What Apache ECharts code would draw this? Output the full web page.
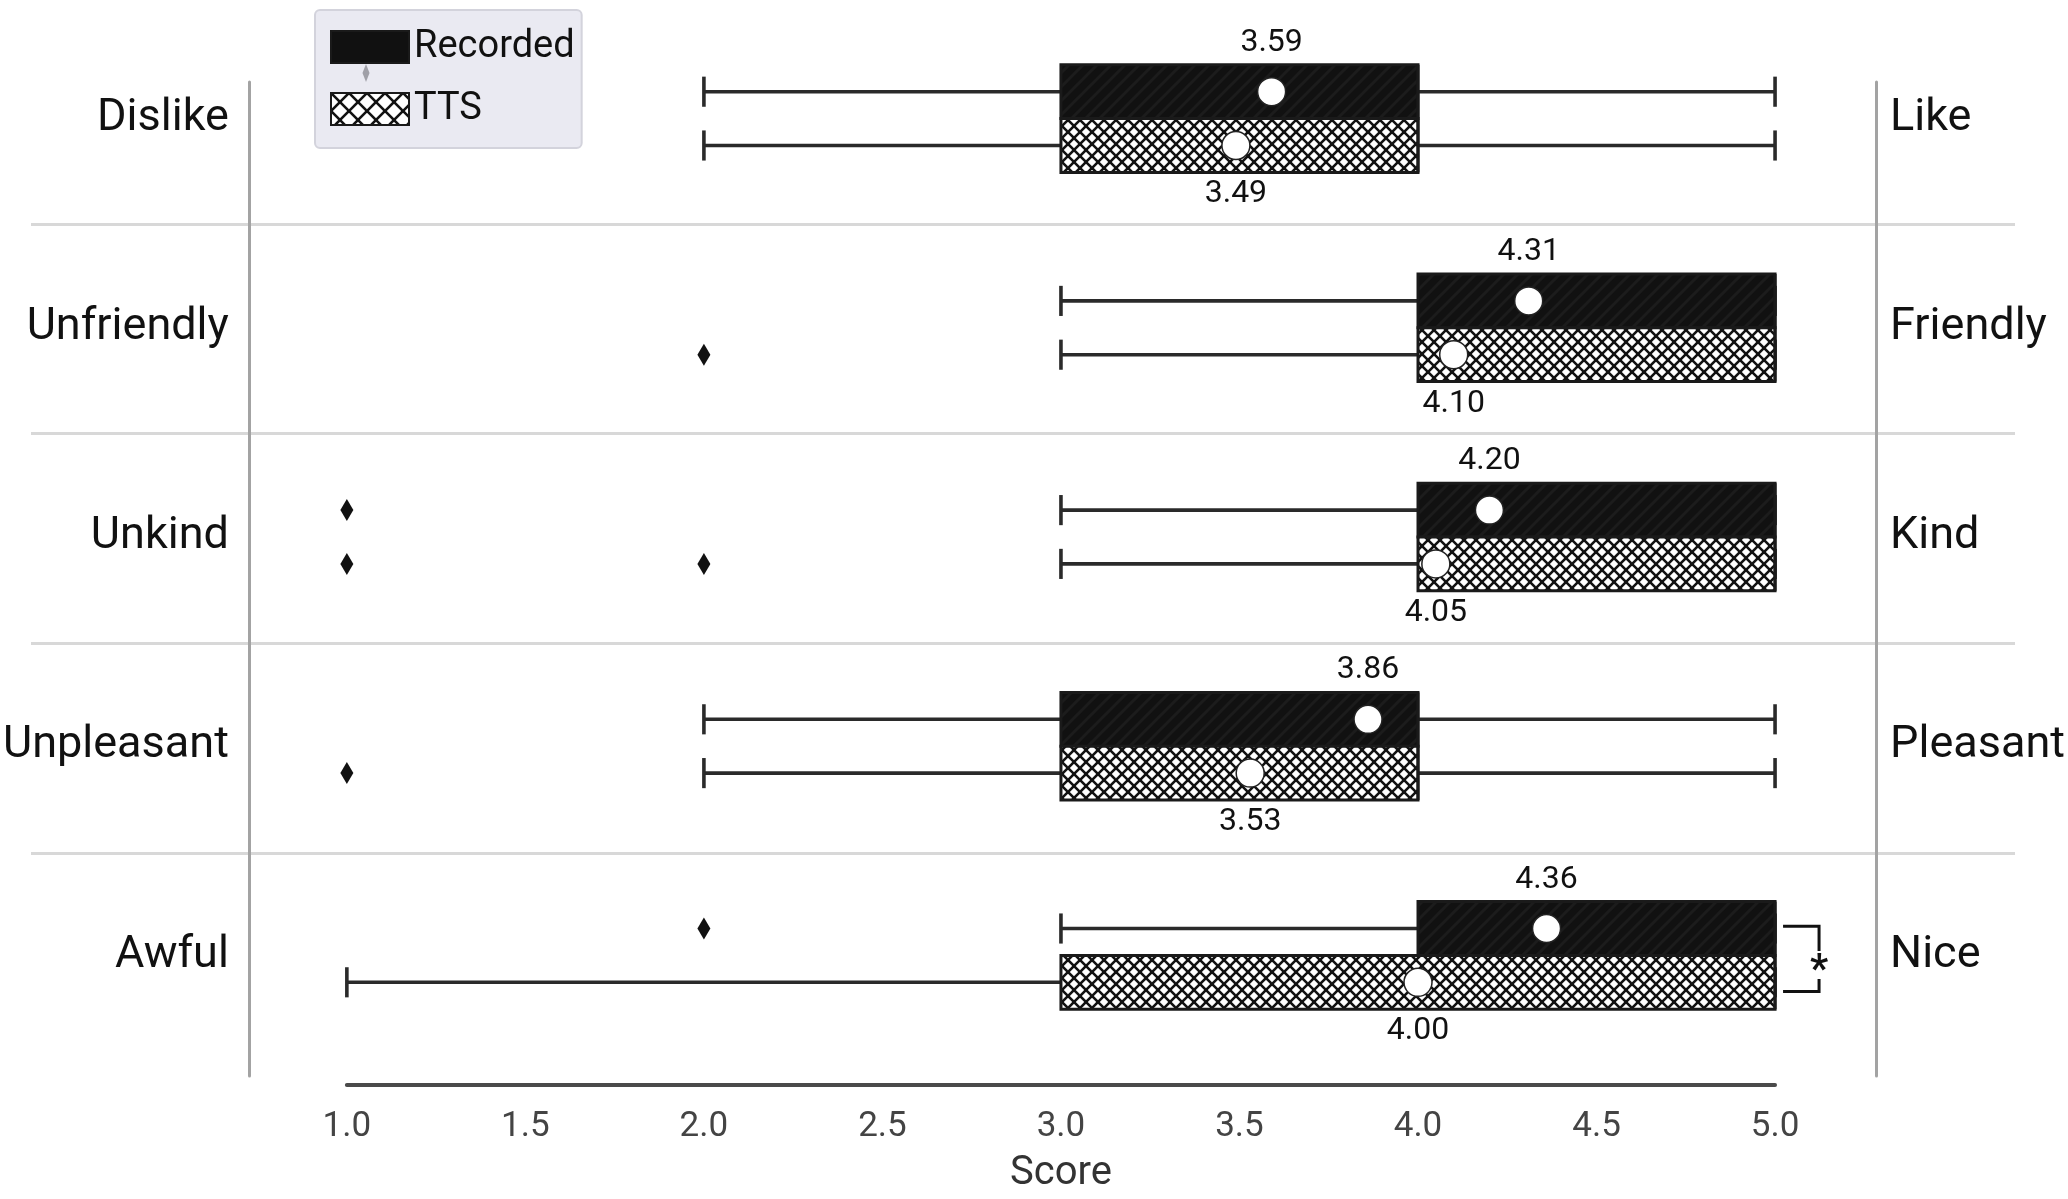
<!DOCTYPE html>
<html><head><meta charset="utf-8">
<script src="https://cdn.jsdelivr.net/npm/echarts@6/dist/echarts.min.js"></script>
<style>html,body{margin:0;padding:0;background:#fff}#c{width:2068px;height:1199px}</style>
</head><body><div id="c"></div>
<script>
// ---------- data ----------
const leftLabels  = ['Dislike', 'Unfriendly', 'Unkind', 'Unpleasant', 'Awful'];
const rightLabels = ['Like', 'Friendly', 'Kind', 'Pleasant', 'Nice'];
const groupNames  = ['Recorded', 'TTS'];
// [min, q1, median, q3, max]
const recordedBox = [[2, 3, 4, 4, 5], [3, 4, 5, 5, 5], [3, 4, 5, 5, 5], [2, 3, 4, 4, 5], [3, 4, 5, 5, 5]];
const ttsBox      = [[2, 3, 4, 4, 5], [3, 4, 5, 5, 5], [3, 4, 5, 5, 5], [2, 3, 4, 4, 5], [1, 3, 5, 5, 5]];
const recordedMean = [3.59, 4.31, 4.20, 3.86, 4.36];
const ttsMean      = [3.49, 4.10, 4.05, 3.53, 4.00];
// [rowIndex, value]
const recordedOutliers = [[2, 1], [4, 2]];
const ttsOutliers      = [[1, 2], [2, 1], [2, 2], [3, 1]];
// [rowIndex, marker]
const significance = [[4, '*']];
const xMin = 1, xMax = 5, xStep = 0.5;

// ---------- styles ----------
const FONT = 'Roboto, "Liberation Sans", sans-serif';
const BOX_FRAC = 54 / 210;   // box height as fraction of the row band
const LABEL_GAP = 22;

function hatch(bg, fg, size, lw, dirs) {
  const c = document.createElement('canvas');
  c.width = c.height = size;
  const g = c.getContext('2d');
  g.fillStyle = bg; g.fillRect(0, 0, size, size);
  g.strokeStyle = fg; g.lineWidth = lw; g.lineCap = 'square';
  for (let k = -1; k <= 1; k++) {
    if (dirs.includes('/')) { g.beginPath(); g.moveTo(k * size, size); g.lineTo(k * size + size, 0); g.stroke(); }
    if (dirs.includes('\\')) { g.beginPath(); g.moveTo(k * size, 0); g.lineTo(k * size + size, size); g.stroke(); }
  }
  return c;
}
const recFill = { image: hatch('#111111', '#1c1c1c', 14, 3, '/'), repeat: 'repeat' };
const ttsFill = { image: hatch('#ffffff', '#111111', 12, 2.6, '/\\'), repeat: 'repeat' };

function boxRenderer(side, fill) {
  return function (params, api) {
    const cat = api.value(0);
    const band = api.size([0, 1])[1];
    const h = band * BOX_FRAC;
    const yc = api.coord([api.value(1), cat])[1] + side * h / 2;
    const X = i => api.coord([api.value(i), cat])[0];
    const x0 = X(1), q1 = X(2), med = X(3), q3 = X(4), x1 = X(5), mean = X(6);
    const capH = h * 0.28;
    const ls = { stroke: '#2a2a2a', lineWidth: 3.6 };
    return {
      type: 'group',
      children: [
        { type: 'line', shape: { x1: x0, y1: yc, x2: q1, y2: yc }, style: ls },
        { type: 'line', shape: { x1: q3, y1: yc, x2: x1, y2: yc }, style: ls },
        { type: 'line', shape: { x1: x0, y1: yc - capH, x2: x0, y2: yc + capH }, style: ls },
        { type: 'line', shape: { x1: x1, y1: yc - capH, x2: x1, y2: yc + capH }, style: ls },
        { type: 'rect', shape: { x: q1, y: yc - h / 2, width: q3 - q1, height: h },
          style: { fill: fill, stroke: '#1a1a1a', lineWidth: 3 } },
        { type: 'line', shape: { x1: med, y1: yc - h / 2, x2: med, y2: yc + h / 2 },
          style: { stroke: '#1a1a1a', lineWidth: 3 } },
        { type: 'circle', shape: { cx: mean, cy: yc, r: 14 },
          style: { fill: '#ffffff', stroke: '#222', lineWidth: 1.5 } },
        { type: 'text', x: mean, y: side < 0 ? yc - h / 2 - LABEL_GAP : yc + h / 2 + LABEL_GAP,
          style: { text: api.value(6).toFixed(2), fontSize: 32, fontFamily: FONT, fill: '#111',
                   align: 'center', verticalAlign: 'middle' } }
      ]
    };
  };
}
function outlierRenderer(side) {
  return function (params, api) {
    const cat = api.value(0);
    const h = api.size([0, 1])[1] * BOX_FRAC;
    const p = api.coord([api.value(1), cat]);
    const yc = p[1] + side * h / 2;
    return { type: 'polygon',
      shape: { points: [[p[0], yc - 11], [p[0] + 6.5, yc], [p[0], yc + 11], [p[0] - 6.5, yc]] },
      style: { fill: '#111' } };
  };
}
function bracketRenderer(params, api) {
  const cat = api.value(0);
  const h = api.size([0, 1])[1] * BOX_FRAC;
  const p = api.coord([api.value(1), cat]);
  const yTop = p[1] - h * 0.54, yBot = p[1] + h * 0.67;
  const xa = p[0] + 8, xb = p[0] + 44;
  const ls = { stroke: '#111', lineWidth: 3 };
  const ym = (yTop + yBot) / 2;
  return { type: 'group', children: [
    { type: 'polyline', shape: { points: [[xa, yTop], [xb, yTop], [xb, ym - 8]] }, style: Object.assign({ fill: null }, ls) },
    { type: 'polyline', shape: { points: [[xb, ym + 20], [xb, yBot], [xa, yBot]] }, style: Object.assign({ fill: null }, ls) },
    { type: 'text', x: xb, y: ym + 13, style: { text: significance[params.dataIndex][1], fontSize: 40,
      fontFamily: FONT, fontWeight: 'bold', fill: '#111', align: 'center', verticalAlign: 'middle' } }
  ] };
}

const recData = recordedBox.map((b, i) => [i, ...b, recordedMean[i]]);
const ttsData = ttsBox.map((b, i) => [i, ...b, ttsMean[i]]);
const sigData = significance.map(s => [s[0], Math.max(recordedBox[s[0]][4], ttsBox[s[0]][4])]);

const chart = echarts.init(document.getElementById('c'), null, { renderer: 'canvas' });
chart.setOption({
  backgroundColor: '#ffffff',
  animation: false,
  grid: [
    { left: 346, right: 284, top: 14, bottom: 136 },
    { left: 31, right: 53, top: 14, bottom: 136 },
    { left: 249, right: 192, top: 82, bottom: 123 }
  ],
  xAxis: [
    { gridIndex: 0, type: 'value', min: xMin, max: xMax, interval: xStep, offset: 25,
      axisLine: { show: true, lineStyle: { color: '#4a4a4a', width: 4 } },
      axisTick: { show: false }, splitLine: { show: false },
      axisLabel: { margin: 25, fontSize: 35, fontFamily: FONT, color: '#444', formatter: v => v.toFixed(1) },
      name: 'Score', nameLocation: 'middle', nameGap: 69,
      nameTextStyle: { fontSize: 40, fontFamily: FONT, color: '#333' } },
    { gridIndex: 1, type: 'value', show: false, min: 0, max: 1 },
    { gridIndex: 2, type: 'value', show: false, min: 0, max: 1 }
  ],
  yAxis: [
    { gridIndex: 0, type: 'category', data: leftLabels, inverse: true,
      axisLine: { show: false }, axisTick: { show: false }, splitLine: { show: false },
      axisLabel: { margin: 118, fontSize: 45, fontFamily: FONT, color: '#111' } },
    { gridIndex: 0, type: 'category', data: rightLabels, inverse: true, position: 'right',
      axisLine: { show: false }, axisTick: { show: false }, splitLine: { show: false },
      axisLabel: { margin: 115, fontSize: 45, fontFamily: FONT, color: '#111' } },
    { gridIndex: 1, type: 'category', data: leftLabels, inverse: true,
      axisLine: { show: false }, axisTick: { show: false }, axisLabel: { show: false },
      splitLine: { show: true, showMinLine: false, showMaxLine: false, interval: 0,
                   lineStyle: { color: '#d8d8d8', width: 3 } } },
    { gridIndex: 2, type: 'value', min: 0, max: 1,
      axisLine: { show: true, lineStyle: { color: '#a3a3a3', width: 3 } },
      axisLabel: { show: false }, axisTick: { show: false }, splitLine: { show: false } },
    { gridIndex: 2, type: 'value', min: 0, max: 1, position: 'right',
      axisLine: { show: true, lineStyle: { color: '#a3a3a3', width: 3 } },
      axisLabel: { show: false }, axisTick: { show: false }, splitLine: { show: false } }
  ],
  legend: {
    data: groupNames, orient: 'vertical', left: 315, top: 10,
    padding: [18, 7, 20, 15], itemWidth: 78, itemHeight: 32, itemGap: 24, icon: 'rect',
    backgroundColor: '#eaeaf2', borderColor: '#d3d3dc', borderWidth: 2, borderRadius: 5,
    selectedMode: false,
    textStyle: { fontFamily: FONT, fontSize: 38, color: '#111' }
  },
  graphic: [
    { type: 'polygon', z: 100, shape: { points: [[366, 64], [369.5, 73], [366, 82], [362.5, 73]] },
      style: { fill: '#a0a0a8' } }
  ],
  series: [
    { name: groupNames[0], type: 'custom', xAxisIndex: 0, yAxisIndex: 0, data: recData,
      encode: { x: [1, 2, 3, 4, 5, 6], y: 0 }, renderItem: boxRenderer(-1, recFill),
      itemStyle: { color: '#111111', borderColor: '#1a1a1a', borderWidth: 2 } },
    { name: groupNames[1], type: 'custom', xAxisIndex: 0, yAxisIndex: 0, data: ttsData,
      encode: { x: [1, 2, 3, 4, 5, 6], y: 0 }, renderItem: boxRenderer(1, ttsFill),
      itemStyle: { color: { image: hatch('#ffffff', '#111111', 18, 2.6, '/\\'), repeat: 'repeat' },
                   borderColor: '#1a1a1a', borderWidth: 2 } },
    { name: 'Recorded outliers', type: 'custom', xAxisIndex: 0, yAxisIndex: 0, data: recordedOutliers,
      encode: { x: 1, y: 0 }, renderItem: outlierRenderer(-1) },
    { name: 'TTS outliers', type: 'custom', xAxisIndex: 0, yAxisIndex: 0, data: ttsOutliers,
      encode: { x: 1, y: 0 }, renderItem: outlierRenderer(1) },
    { name: 'Significance', type: 'custom', xAxisIndex: 0, yAxisIndex: 0, data: sigData,
      encode: { x: 1, y: 0 }, renderItem: bracketRenderer }
  ]
});
</script></body></html>
